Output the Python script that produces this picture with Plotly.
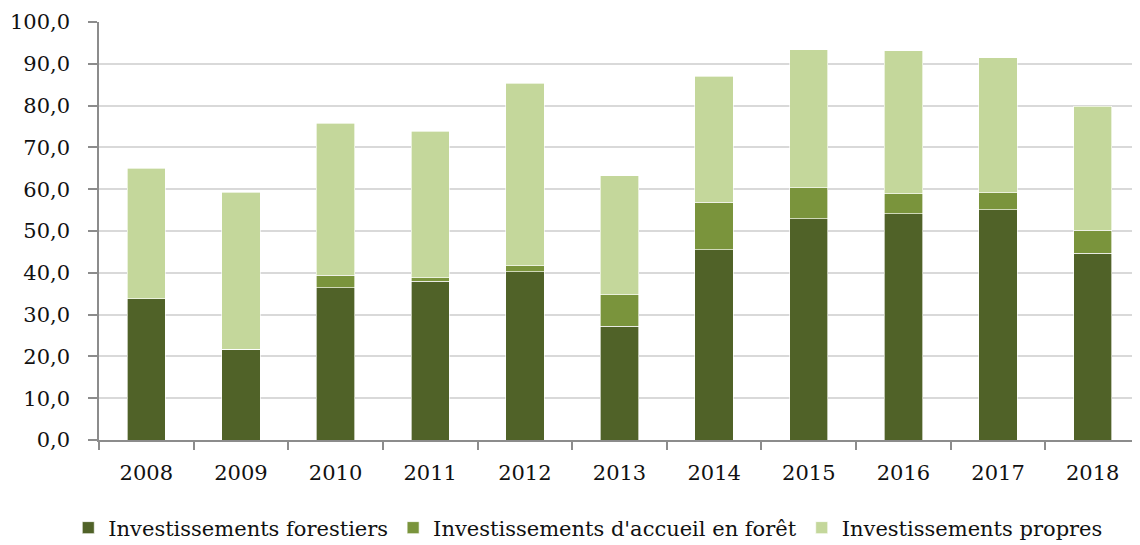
import plotly.graph_objects as go

years = ["2008", "2009", "2010", "2011", "2012", "2013", "2014", "2015", "2016", "2017", "2018"]
forestiers = [33.8, 21.7, 36.4, 38.0, 40.2, 27.2, 45.5, 52.9, 54.1, 55.1, 44.7]
accueil = [0.0, 0.0, 3.0, 0.8, 1.5, 7.5, 11.4, 7.5, 4.8, 4.0, 5.5]
propres = [31.2, 37.6, 36.4, 35.1, 43.6, 28.5, 30.1, 33.0, 34.2, 32.4, 29.7]

series_names = ["Investissements forestiers", "Investissements d'accueil en forêt", "Investissements propres"]
colors = ["#506228", "#7A943C", "#C4D79B"]

FONT = "DejaVu Serif"

fig = go.Figure()
for name, vals, col in zip(series_names, [forestiers, accueil, propres], colors):
    fig.add_trace(go.Bar(
        x=years, y=vals, name=name,
        marker=dict(color=col, line=dict(color="rgba(255,255,255,0.8)", width=0.8)),
    ))

fig.update_layout(
    barmode="stack",
    bargap=0.595,
    width=1140, height=545,
    margin=dict(l=91, r=8, t=14, b=113, autoexpand=False),
    paper_bgcolor="white",
    plot_bgcolor="white",
    separators=", ",
    font=dict(family=FONT, size=21, color="#111111"),
    legend=dict(
        orientation="h",
        traceorder="normal",
        x=0.47, xanchor="center",
        y=-0.2105, yanchor="middle",
        font=dict(family=FONT, size=21, color="#111111"),
        itemwidth=30,
        tracegroupgap=0,
    ),
    xaxis=dict(
        type="category",
        automargin=False,
        showgrid=False,
        showline=True, linecolor="#8C8C8C", linewidth=1.5,
        ticks="outside", tickson="boundaries", ticklen=8, tickcolor="#8C8C8C", tickwidth=1.5,
        ticklabelstandoff=13,
        tickfont=dict(family=FONT, size=21),
    ),
    yaxis=dict(
        automargin=False,
        range=[0, 100],
        dtick=10,
        tickformat=".1f",
        showgrid=True, gridcolor="#D9D9D9", gridwidth=1.5,
        showline=True, linecolor="#8C8C8C", linewidth=1.5,
        ticks="outside", ticklen=9, tickcolor="#8C8C8C", tickwidth=1.5,
        ticklabelstandoff=14,
        zeroline=False,
        tickfont=dict(family=FONT, size=21),
    ),
)

fig.write_html("out.html")
